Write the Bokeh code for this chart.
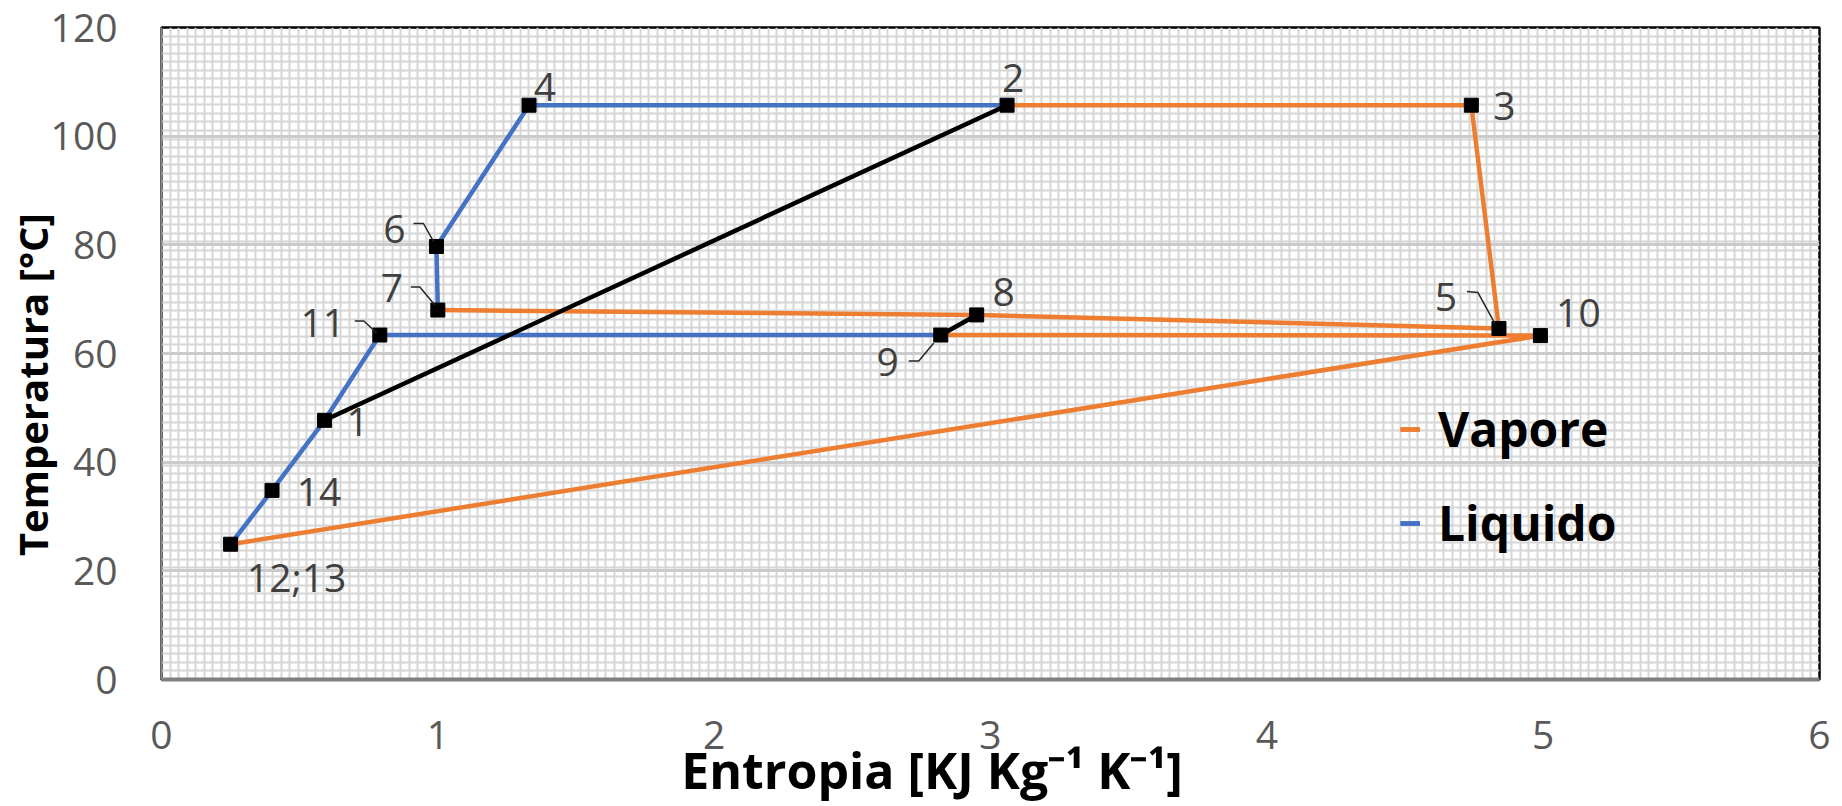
import numpy as np
from bokeh.plotting import figure
from bokeh.models import (Range1d, FixedTicker, Grid, Legend, LegendItem,
                          ColumnDataSource)
from bokeh.core.properties import value
from bokeh.embed import file_html
from bokeh.resources import INLINE

# ---------------- data ----------------
point_names = ["1", "2", "3", "4", "5", "6", "7", "8", "9", "10", "11", "12;13", "14"]
entropy = [0.59, 3.06, 4.74, 1.33, 4.84, 0.995, 1.00, 2.95, 2.82, 4.99, 0.79, 0.25, 0.40]
temperature = [47.7, 105.7, 105.7, 105.7, 64.6, 79.7, 68.0, 67.1, 63.4, 63.3, 63.4, 24.9, 34.8]

vapore_paths = [["2", "3", "5", "8", "7"], ["9", "10", "12;13"]]
liquido_paths = [["12;13", "14", "1", "11", "9"], ["7", "6", "4", "2"]]
black_paths = [["1", "2"], ["9", "8"]]

x_ticks = [0, 1, 2, 3, 4, 5, 6]
y_ticks = [0, 20, 40, 60, 80, 100, 120]

x_title = "Entropia [KJ Kg\u207b\u00b9 K\u207b\u00b9]"
y_title = "Temperatura [\u00b0C]"
legend_labels = ["Vapore", "Liquido"]

# ---------------- styles ----------------
ORANGE = "#ED7D31"
BLUE = "#4472C4"
FW, FH = 1658, 653
NBSP = "\u00a0"
label_offsets = {"1": (33, 2), "2": (6, -27), "3": (33, 1), "4": (16, -18),
                 "5": (-53, -32), "6": (-42, -17), "7": (-46, -22), "8": (27, -23),
                 "9": (-53, 27), "10": (38, -23), "11": (-57, -12),
                 "12;13": (66, 32), "14": (47, 2)}
leaders = {"5": [(-32, -37), (-21, -36), (-4, -5)],
           "6": [(-23, -23), (-13, -23), (-3, -5)],
           "7": [(-27, -23), (-18, -23), (-3, -5)],
           "9": [(-32, 26), (-22, 26), (-7, 8)],
           "11": [(-25, -14), (-16, -14), (-3, -2)]}

idx = {n: i for i, n in enumerate(point_names)}

p = figure(width=1840, height=806, x_range=Range1d(0, 6), y_range=Range1d(0, 120),
           output_backend="svg", toolbar_location=None,
           min_border_left=161, min_border_right=21, min_border_top=27,
           min_border_bottom=126)
p.background_fill_color = "white"
p.border_fill_color = "white"
p.outline_line_color = "black"
p.outline_line_width = 2.5

# grids (fine pattern + major)
p.xgrid.visible = False
p.ygrid.visible = False
fine_x = FixedTicker(ticks=list(np.arange(0, 6.0001, 6 / 194)))
fine_y = FixedTicker(ticks=list(np.arange(0, 120.001, 120 / 76)))
p.add_layout(Grid(dimension=0, ticker=fine_x, grid_line_color="#d6d6d6", grid_line_width=2))
p.add_layout(Grid(dimension=1, ticker=fine_y, grid_line_color="#d6d6d6", grid_line_width=2))
p.add_layout(Grid(dimension=1, ticker=FixedTicker(ticks=y_ticks), grid_line_color="#cbcbcb",
                  grid_line_width=3))

# axes
for ax in (p.xaxis, p.yaxis):
    ax.major_tick_in = 0
    ax.major_tick_out = 0
    ax.minor_tick_in = 0
    ax.minor_tick_out = 0
    ax.major_label_text_font = "Open Sans"
    ax.major_label_text_font_size = "39px"
    ax.major_label_text_color = "#595959"
    ax.axis_label_text_font = "Open Sans"
    ax.axis_label_text_font_style = "bold"
    ax.axis_label_text_color = "black"
p.xaxis.ticker = FixedTicker(ticks=x_ticks)
p.yaxis.ticker = FixedTicker(ticks=y_ticks)
p.xaxis.axis_line_color = "#7f7f7f"
p.xaxis.axis_line_width = 4
p.yaxis.axis_line_color = "#8c8c8c"
p.yaxis.axis_line_width = 2
p.xaxis.major_label_standoff = 41
p.yaxis.major_label_standoff = 44
# trailing no-break spaces shift the centred titles as in the reference
p.xaxis.axis_label = x_title + NBSP * 9
p.yaxis.axis_label = y_title + NBSP * 6
p.xaxis.axis_label_text_font_size = "50px"
p.yaxis.axis_label_text_font_size = "40px"
p.xaxis.axis_label_standoff = -16
p.yaxis.axis_label_standoff = -12


def path_xy(path):
    return [entropy[idx[n]] for n in path], [temperature[idx[n]] for n in path]


renderers = {}
for name, paths, color in (("Vapore", vapore_paths, ORANGE),
                           ("Liquido", liquido_paths, BLUE),
                           ("black", black_paths, "black")):
    rs = []
    for path in paths:
        xs, ys = path_xy(path)
        rs.append(p.line(xs, ys, line_color=color, line_width=4.5))
    renderers[name] = rs

# markers
p.scatter(entropy, temperature, marker="square", size=14, fill_color="black",
          line_color="black")

# leader lines
sx = FW / 6.0
sy = FH / 120.0
lx, ly = [], []
for n, pts in leaders.items():
    x0, y0 = entropy[idx[n]], temperature[idx[n]]
    lx.append([x0 + dx / sx for dx, dy in pts])
    ly.append([y0 - dy / sy for dx, dy in pts])
p.multi_line(lx, ly, line_color="#262626", line_width=1.5)

# data labels
src = ColumnDataSource(dict(x=entropy, y=temperature, t=point_names,
                            xo=[label_offsets[n][0] for n in point_names],
                            yo=[label_offsets[n][1] for n in point_names]))
p.text(x="x", y="y", text="t", x_offset="xo", y_offset="yo", source=src,
       text_font=value("Open Sans"), text_font_size="39px", text_color="#404040",
       text_align="center", text_baseline="middle")

# legend
legend = Legend(items=[LegendItem(label=legend_labels[0], renderers=renderers["Vapore"]),
                       LegendItem(label=legend_labels[1], renderers=renderers["Liquido"])],
                location=(1239, 124), padding=0, margin=0, border_line_color=None,
                background_fill_alpha=0, glyph_width=20, glyph_height=20,
                label_standoff=18, spacing=29, label_text_font="Open Sans",
                label_text_font_style="bold", label_text_font_size="48px",
                label_text_color="black")
p.add_layout(legend)

open("out.html", "w").write(file_html(p, INLINE))
